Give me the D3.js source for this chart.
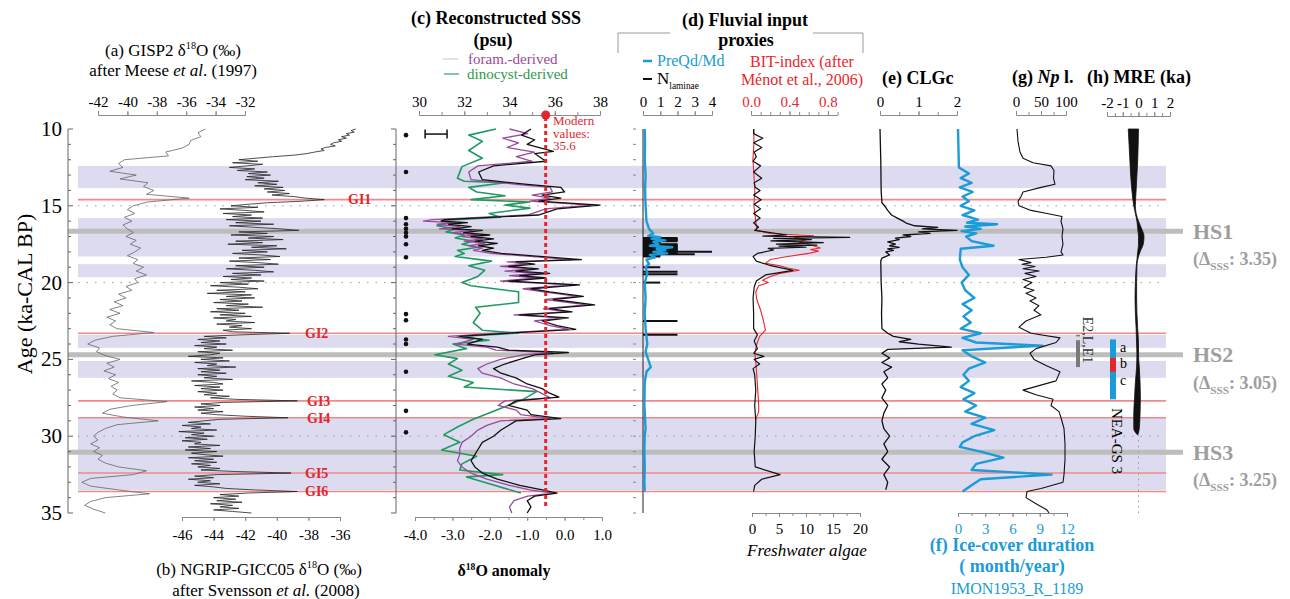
<!DOCTYPE html>
<html><head><meta charset="utf-8">
<script src="https://cdn.jsdelivr.net/npm/d3@7/dist/d3.min.js"></script>
<style>
body{margin:0;background:#fff;}
svg{font-family:"Liberation Serif","Times New Roman",serif;display:block;}
</style></head><body>
<svg id="c" width="1290" height="599"></svg>
<script>
// ---------------- DATA ----------------
const ageTicks = [10,15,20,25,30,35];
const bandStart = [12.4,15.8,18.8,23.4,25.1,28.8];
const bandEnd   = [13.85,18.3,19.65,24.25,26.2,33.5];
const giAges = [14.6,23.3,27.7,28.8,32.4,33.6];
const giLabels = ["GI1","GI2","GI3","GI4","GI5","GI6"];
const hsAges = [16.65,24.7,31.05];
const hsLabels = ["HS1","HS2","HS3"];
const hsDelta = ["3.35","3.05","3.25"];
const dottedAges = [15,20,30];

// (a) GISP2 d18O, sampled every 0.25 ka from 10 ka
const gispStart = 10, gispStep = 0.25;
const gispD18O = [-34.7,-35.2,-35.0,-35.7,-35.8,-36.3,-37.4,-37.2,-40.2,-40.6,
 -40.3,-41.2,-39.4,-40.5,-38.6,-38.9,-38.2,-38.7,-35.8,-38.6,
 -39.6,-40.0,-39.5,-40.2,-39.7,-40.3,-40.0,-39.6,-40.1,-39.4,
 -39.8,-39.1,-39.5,-40.0,-39.3,-39.6,-38.9,-39.4,-38.7,-39.5,
 -39.3,-40.1,-39.7,-40.6,-40.1,-40.9,-40.3,-41.2,-40.5,-41.4,
 -40.8,-41.2,-40.7,-38.2,-41.0,-42.2,-42.7,-41.9,-42.1,-41.5,
 -40.5,-41.4,-40.9,-41.6,-40.8,-41.3,-40.6,-41.1,-40.7,-41.0,
 -40.5,-37.3,-39.7,-41.2,-41.7,-40.3,-37.9,-40.7,-41.5,-42.0,
 -42.3,-42.0,-42.5,-41.9,-42.3,-41.7,-42.0,-41.5,-40.6,-38.7,
 -39.6,-42.5,-43.1,-42.5,-40.6,-38.5,-41.5,-42.5,-42.9,-42.3,-41.5];

// (b) NGRIP d18O, sampled every 0.1 ka from 10 ka
const ngripStart = 10, ngripStep = 0.1;
const ngripD18O = [
 -35.0,-35.3,-35.1,-35.6,-35.4,-35.9,-35.6,-36.1,-35.9,-36.4,
 -36.6,-36.3,-36.9,-37.2,-37.0,-37.6,-38.1,-38.9,-40.2,-41.3,
 -42.4,-41.2,-42.8,-40.9,-41.9,-43.0,-41.4,-42.5,-40.6,-41.8,
 -40.4,-41.9,-40.8,-42.0,-39.9,-41.2,-40.0,-41.4,-39.6,-40.8,
 -39.5,-40.6,-39.2,-40.3,-38.9,-38.2,-37.0,-38.4,-40.6,-41.8,
 -42.9,-41.2,-43.6,-42.0,-40.8,-43.4,-41.6,-42.8,-40.9,-43.2,
 -41.0,-42.6,-40.2,-43.0,-41.4,-39.8,-38.6,-42.4,-40.6,-42.9,
 -40.2,-41.8,-39.6,-42.6,-40.9,-43.1,-40.0,-41.6,-39.4,-42.2,
 -40.6,-42.8,-41.0,-39.8,-42.4,-40.4,-43.0,-41.2,-39.9,-42.6,
 -40.8,-43.2,-41.4,-40.2,-42.8,-41.0,-43.4,-41.6,-42.9,-40.8,
 -43.6,-41.8,-44.2,-42.4,-41.2,-43.8,-42.0,-44.4,-41.6,-43.2,
 -41.4,-43.6,-42.2,-44.0,-41.8,-43.2,-40.9,-43.8,-42.4,-44.2,
 -42.0,-43.6,-41.6,-44.0,-42.6,-43.2,-41.4,-43.8,-42.2,-43.0,
 -41.6,-43.4,-42.8,-39.2,-42.2,-44.6,-43.2,-45.0,-43.6,-44.8,
 -43.2,-45.2,-43.8,-44.6,-42.8,-45.0,-43.6,-44.2,-45.6,-43.4,
 -44.8,-43.0,-45.2,-43.8,-44.4,-42.6,-45.0,-43.6,-44.8,-43.2,
 -45.0,-43.8,-44.6,-42.8,-45.4,-44.0,-43.4,-45.2,-43.6,-44.8,
 -43.4,-45.0,-43.8,-44.6,-43.0,-44.2,-42.6,-38.7,-43.4,-44.8,
 -43.6,-45.2,-44.0,-45.0,-43.4,-44.8,-43.8,-42.0,-39.3,-43.6,
 -44.6,-45.6,-44.2,-46.0,-44.8,-45.4,-43.8,-46.2,-44.6,-45.4,
 -44.0,-45.8,-44.4,-46.0,-44.8,-45.2,-43.6,-45.6,-44.2,-45.8,
 -43.8,-45.4,-44.6,-43.4,-45.6,-44.0,-45.2,-43.8,-45.4,-44.2,
 -45.0,-43.6,-44.8,-42.6,-39.1,-43.8,-45.2,-44.0,-45.6,-44.2,
 -45.0,-43.6,-45.2,-44.0,-43.2,-41.4,-38.7,-41.8,-43.6,-42.4,
 -44.0,-42.6,-43.8,-42.2,-44.2,-42.8,-43.6,-42.4,-44.0,-42.8,
 -41.6];

// (c) SSS
const dinoAge = [10.0,10.4,10.8,11.4,11.9,12.45,13.2,13.4,13.5,13.8,14.1,14.35,14.6,14.75,14.95,15.15,15.5,15.75,15.95,16.1,16.3,16.5,16.7,16.9,17.1,17.3,17.5,17.7,17.9,18.1,18.3,18.6,18.9,19.2,19.6,20.0,20.2,20.6,21.3,21.6,22.0,22.6,23.1,23.3,23.5,23.75,24.0,24.3,24.7,24.95,25.3,25.7,26.1,26.5,26.8,27.1,27.6,28.2,28.9,29.4,29.9,30.4,30.9,31.3,31.8,32.2,32.5,32.65,33.7];
const dinoSSS = [33.4,32.2,32.8,32.2,32.8,31.9,31.7,32.0,33.8,32.2,32.55,33.8,32.3,34.9,33.8,34.9,33.1,33.6,31.0,31.4,30.8,31.6,31.2,32.0,31.6,32.4,31.9,32.6,31.7,32.0,31.6,33.2,32.2,32.9,32.6,31.9,32.3,34.4,34.4,32.5,32.7,32.4,32.8,34.4,31.7,33.1,31.5,32.1,30.7,31.7,31.3,31.9,31.3,32.4,32.0,35.2,34.6,33.6,32.4,31.7,31.1,31.8,31.0,32.55,31.9,31.8,33.7,32.1,34.5];
const foramAge = [10.0,10.3,10.6,10.9,11.2,11.5,11.8,12.1,12.4,12.8,13.3,13.6,13.8,14.1,14.3,14.5,14.7,14.95,15.2,15.6,15.9,16.0,16.1,16.2,16.35,16.5,16.6,16.75,16.9,17.0,17.15,17.3,17.45,17.6,17.75,17.9,18.1,18.5,18.65,18.8,18.95,19.1,19.25,19.4,19.55,19.7,19.9,20.15,20.4,20.6,20.9,21.1,21.45,21.7,21.9,22.1,22.3,22.5,22.8,23.05,23.3,23.5,23.7,24.0,24.2,24.4,24.55,24.7,25.0,25.3,25.6,25.9,26.2,26.6,26.9,27.2,27.5,27.7,28.0,28.3,28.6,28.85,29.0,29.3,29.6,30.0,30.4,30.8,31.2,31.6,32.0,32.4,32.8,33.2,33.5,33.7,33.9,34.2,34.6,35.0];
const foramSSS = [34.0,34.8,33.7,34.4,33.9,35.1,34.3,35.0,32.6,32.2,32.3,34.3,35.8,35.9,35.0,35.8,34.9,37.6,35.6,34.8,30.6,30.2,31.6,30.8,31.8,30.9,32.3,31.5,32.6,31.9,32.8,32.0,32.9,32.2,32.8,32.4,33.2,36.7,33.9,34.7,33.6,34.9,33.8,35.3,34.0,35.2,33.6,36.7,34.6,35.5,37.0,35.6,37.4,35.5,36.5,34.2,36.3,35.1,35.8,36.6,33.3,31.3,32.4,31.6,33.0,33.4,35.9,34.6,33.6,33.0,32.6,32.8,33.6,34.2,35.0,35.4,35.8,33.8,33.5,34.3,34.5,35.8,33.6,33.0,32.6,32.3,31.9,31.8,31.8,31.7,31.9,32.3,33.0,34.0,34.9,35.9,34.8,34.2,34.0,34.1];
const anomAge = [10.0,10.4,10.7,11.0,11.45,11.6,12.1,12.4,12.8,13.3,13.6,13.8,14.1,14.3,14.5,14.7,14.95,15.2,15.6,15.9,16.0,16.1,16.2,16.35,16.5,16.6,16.75,16.9,17.0,17.15,17.3,17.45,17.6,17.75,17.9,18.1,18.5,18.65,18.8,18.95,19.1,19.25,19.4,19.55,19.7,19.9,20.15,20.4,20.6,20.9,21.1,21.45,21.7,21.9,22.1,22.3,22.5,22.8,23.05,23.3,23.5,23.7,24.0,24.2,24.4,24.55,24.7,25.0,25.3,25.6,25.9,26.2,26.6,26.9,27.2,27.45,27.7,28.0,28.3,28.6,28.85,29.0,29.3,29.6,30.0,30.4,30.8,31.2,31.6,32.0,32.4,32.8,33.2,33.5,33.7,33.9,34.2,34.6,35.0];
const anomVal = [-0.9,-1.15,-0.8,-1.0,-0.3,-0.8,-0.5,-1.9,-2.3,-2.2,-1.0,-0.1,0.0,-0.6,-0.1,-0.7,0.95,-0.2,-0.7,-3.2,-3.3,-2.6,-3.1,-2.5,-3.0,-2.2,-2.7,-2.0,-2.5,-1.9,-2.4,-1.8,-2.3,-1.9,-2.2,-1.7,0.45,-1.3,-0.8,-1.5,-0.7,-1.3,-0.4,-1.2,-0.5,-1.5,0.4,-0.9,-0.4,0.5,-0.3,0.8,-0.4,0.2,-1.2,0.1,-0.6,-0.2,0.3,-1.6,-2.8,-2.2,-2.6,-1.8,-1.5,0.1,-0.8,-1.2,-1.6,-1.9,-1.7,-1.3,-1.0,-0.6,-0.4,-0.15,-1.3,-1.5,-1.0,-0.9,-0.1,-1.3,-1.5,-1.7,-1.9,-2.2,-2.3,-2.4,-2.5,-2.4,-2.2,-1.8,-1.2,-0.6,-0.2,-0.8,-1.0,-0.9,-1.0];
const sssDotAges = [10.4,12.8,15.8,16.2,16.5,16.75,17.0,17.5,18.35,22.05,22.45,23.7,24.0,25.8,28.35,29.75];
const sssErrBar = [30.27,31.24];
const modernSSS = 35.6;

// (d) fluvial input proxies
const preqdAge = [10,11,12,13,14,15,16,16.5,16.8,16.95,17.05,17.15,17.25,17.35,17.5,17.6,17.7,17.8,17.9,18.0,18.1,18.2,18.35,18.5,18.8,19.0,19.4,20,21,22,23,24.0,24.5,25.0,25.5,25.8,26.5,28,29.5,30,31,32,33,33.6];
const preqdVal = [0.1,0.12,0.1,0.15,0.12,0.15,0.2,0.35,0.6,0.3,1.0,0.5,1.3,0.6,0.9,0.4,1.7,0.8,1.3,0.6,1.4,0.4,0.7,0.2,0.35,0.15,0.25,0.1,0.15,0.1,0.15,0.25,0.15,0.3,0.45,0.2,0.1,0.08,0.15,0.1,0.08,0.1,0.08,0.1];
const lamAge = [17.1,17.14,17.18,17.22,17.26,17.3,17.34,17.38,17.42,17.46,17.5,17.54,17.58,17.62,17.66,17.7,17.74,17.78,17.82,17.86,17.9,17.94,17.99,18.05,18.1,18.16,18.21,18.26,18.3,19.0,19.3,19.45,20.0,22.5,23.4];
const lamVal = [2,2,2,2,2,2,1,1,1,1,2,2,2,2,2,2,2,2,2,2,2,2,4,2,2,3,1,1,1,1,2,2,1,2,2];
const bitAge = [10.0,11,12,13,14,15,16,16.6,16.8,16.95,17.05,17.2,17.35,17.5,17.6,17.75,17.85,17.95,18.1,18.3,18.5,18.75,18.9,19.05,19.2,19.4,19.6,19.85,20.0,20.2,20.6,21.1,21.8,22.5,23.1,23.5,24.0,24.6,25.2,26.0,27.0,28.0,28.4,28.9];
const bitVal = [0.03,0.03,0.02,0.03,0.04,0.03,0.05,0.06,0.2,0.65,0.45,0.58,0.5,0.6,0.65,0.72,0.62,0.7,0.6,0.38,0.2,0.15,0.3,0.38,0.5,0.3,0.2,0.12,0.18,0.08,0.05,0.06,0.1,0.13,0.15,0.09,0.06,0.04,0.05,0.06,0.07,0.08,0.08,0.05];
const algaeAge = [10.0,10.3,10.6,10.9,11.2,11.5,11.8,12.1,12.4,12.8,13.2,13.5,13.8,14.0,14.3,14.6,14.9,15.2,15.5,15.8,16.1,16.4,16.6,16.9,16.98,17.05,17.12,17.2,17.28,17.4,17.49,17.56,17.62,17.7,17.77,17.88,18.1,18.3,18.6,18.9,19.2,19.5,19.9,20.3,21.0,22.0,23.0,23.4,23.8,24.3,24.6,24.8,25.0,25.3,25.6,26.0,27.0,28.0,29.0,30.0,31.0,32.0,32.5,32.8,33.2,33.6];
const algaeVal = [0.3,0.3,2.0,0.3,1.8,0.4,0.8,0.2,1.6,0.3,1.8,0.4,0.6,1.5,0.3,1.7,0.4,1.6,0.3,1.5,0.3,1.2,0.5,6.4,2.0,18.1,4.0,11.0,3.5,13.2,4.5,12.0,5.0,10.0,3.0,4.0,1.0,0.2,0.8,3.5,7.6,2.5,0.8,0.4,0.2,0.3,0.3,1.0,0.4,1.0,0.3,2.2,0.4,1.4,0.2,0.5,0.7,0.5,0.7,0.6,0.4,0.6,5.2,1.8,0.5,0.3];

// (e) CLGc
const clgAge = [10,12,14,14.8,15.0,15.3,15.6,15.8,16.0,16.15,16.3,16.4,16.5,16.6,16.7,16.8,16.9,17.0,17.1,17.2,17.35,17.5,17.6,17.7,17.8,17.9,18.0,18.2,18.4,18.6,20,21,22,23,23.3,23.5,23.7,23.85,24.0,24.2,24.35,24.6,24.9,25.2,25.5,25.8,26.2,26.6,27.0,27.5,28.0,28.5,29.0,29.5,30.0,30.5,31.0,31.5,32.0,32.5,33.0,33.5];
const clgVal = [0.0,0.02,0.03,0.05,0.12,0.2,0.3,0.45,0.6,0.7,0.9,1.5,1.1,2.0,1.0,1.3,0.6,0.8,0.4,0.5,0.2,0.4,0.25,0.5,0.2,0.35,0.15,0.25,0.05,0.02,0.03,0.05,0.04,0.05,0.2,0.35,0.8,0.5,1.0,1.85,0.2,0.05,0.25,0.05,0.3,0.1,0.2,0.05,0.15,0.05,0.2,0.1,0.05,0.1,0.25,0.1,0.2,0.05,0.25,0.1,0.2,0.15];

// (f) Ice-cover duration (month/year)
const iceAge = [10,12.5,12.9,13.2,13.5,13.8,14.1,14.4,14.7,15.0,15.3,15.6,15.9,16.1,16.2,16.35,16.5,16.65,16.8,17.0,17.3,17.6,17.8,18.5,19.0,19.5,20.0,20.5,21.0,21.4,21.8,22.2,22.6,23.0,23.3,23.6,23.9,24.1,24.4,24.8,25.2,25.6,26.0,26.4,26.8,27.2,27.6,28.0,28.4,28.8,29.2,29.6,30.0,30.4,30.7,31.0,31.4,31.8,32.2,32.5,32.8,33.2,33.6];
const iceVal = [0,0.1,1.2,0.3,1.5,0.2,1.6,0.5,1.2,0.3,1.8,0.5,2.2,1.0,4.3,0.8,2.5,0.4,2.0,0.9,1.5,3.9,0.3,0.2,0.5,1.2,0.4,0.8,1.8,0.5,1.5,0.6,1.4,0.3,2.5,0.5,2.0,9.3,0.5,1.5,3.0,1.2,0.6,1.2,0.3,1.8,0.6,2.0,0.8,3.0,1.5,4.0,1.8,0.5,0.2,2.5,5.0,2.0,1.5,10.3,2.5,1.5,0.5];

// (g) Np l. (%)
const npAge = [10.0,10.8,11.5,11.9,12.2,12.4,12.7,13.2,13.6,13.8,14.1,14.4,14.7,15.0,15.3,15.5,15.7,16.0,16.5,17.0,17.5,18.0,18.2,18.35,18.5,18.7,18.8,18.95,19.1,19.25,19.4,19.6,19.8,20.0,20.3,20.5,20.7,21.0,21.2,21.5,21.8,22.1,22.5,22.9,23.3,23.6,23.9,24.3,24.6,25.0,25.4,25.8,26.4,27.0,27.3,27.6,28.0,28.4,28.8,29.5,30.5,31.5,32.5,33.0,33.4,33.6,34.0,34.4,34.8,35.0];
const npVal = [2,4,8,14,34,70,76,75,78,50,14,10,4,6,30,62,92,90,94,92,94,90,94,60,6,30,12,38,14,46,18,40,14,32,16,36,20,40,28,46,36,50,20,6,30,88,80,40,28,36,60,88,80,14,40,74,70,86,90,96,98,98,96,94,50,22,20,40,62,66];

// (h) MRE (ka) envelope
const mreAge = [10.0,11,12,13,14,15,15.5,16,16.5,17,17.5,18,18.5,19,20,21,22,23,24,24.7,25.5,26.5,27.5,28.5,29.5,29.9];
const mreMin = [-0.65,-0.6,-0.55,-0.5,-0.42,-0.3,-0.2,-0.1,-0.05,0.0,0.0,-0.05,-0.1,-0.15,-0.2,-0.22,-0.2,-0.15,-0.12,-0.1,-0.12,-0.2,-0.25,-0.3,-0.3,-0.08];
const mreMax = [0.0,-0.02,-0.05,-0.1,-0.15,-0.2,-0.15,0.0,0.2,0.35,0.3,0.1,-0.05,-0.1,-0.12,-0.12,-0.1,-0.05,0.0,0.0,0.05,0.1,0.12,0.1,0.05,-0.04];

// stratigraphic bars (age ranges)
const e2Range = [23.4,25.5], e2Light = [23.5,23.75];
const neaRange = [23.7,27.6], neaB = [24.9,25.8];

// ---------------- DRAWING ----------------
const svg = d3.select('#c');
svg.append('rect').attr('width',1290).attr('height',599).attr('fill','#fff');
const FONT = '"Liberation Serif","Times New Roman",serif';
const BLUE = '#1b9bd7', RED = '#e3262b', GRAYT = '#9e9e9e';

const y = d3.scaleLinear().domain([10,35]).range([129,513]);
const xA = d3.scaleLinear().domain([-42,-32]).range([98,245]);
const xB = d3.scaleLinear().domain([-46,-36]).range([182,340]);
const xS = d3.scaleLinear().domain([30,38]).range([419,600]);
const xAn = d3.scaleLinear().domain([-4,1]).range([415,602]);
const xPQ = d3.scaleLinear().domain([0,4]).range([643,712]);
const xBIT = d3.scaleLinear().domain([0,0.9]).range([751,837.6]);
const xFA = d3.scaleLinear().domain([0,20]).range([752,860]);
const xCL = d3.scaleLinear().domain([0,2]).range([880,957]);
const xIC = d3.scaleLinear().domain([0,12]).range([958,1067]);
const xNp = d3.scaleLinear().domain([0,100]).range([1016,1066]);
const xM = d3.scaleLinear().domain([-2,2]).range([1107,1170]);

// background bands
const gBg = svg.append('g');
bandStart.forEach((s,i)=>{
  gBg.append('rect').attr('x',78).attr('width',1166-78)
    .attr('y',y(s)).attr('height',y(bandEnd[i])-y(s)).attr('fill','#dddbef');
});
dottedAges.forEach(a=>{
  gBg.append('line').attr('x1',78).attr('x2',1166).attr('y1',y(a)).attr('y2',y(a))
    .attr('stroke','#9a9a9a').attr('stroke-width',1).attr('stroke-dasharray','1.5,7');
});
giAges.forEach(a=>{
  gBg.append('line').attr('x1',78).attr('x2',1166).attr('y1',y(a)).attr('y2',y(a))
    .attr('stroke','#f08a8a').attr('stroke-width',1.6);
});
hsAges.forEach(a=>{
  gBg.append('line').attr('x1',68).attr('x2',1183).attr('y1',y(a)).attr('y2',y(a))
    .attr('stroke','#bdbdbd').attr('stroke-width',5);
});

// helper: rich text
function rich(x, yc, segs, o){
  o = o||{};
  const size = o.size||16;
  const t = svg.append('text').attr('x',x).attr('y',yc+size*0.34)
    .attr('text-anchor',o.anchor||'start').attr('font-size',size)
    .attr('fill',o.fill||'#000').attr('font-weight',o.weight||'normal')
    .attr('font-family',FONT);
  if(o.rotate) t.attr('transform',`rotate(${o.rotate},${x},${yc})`);
  let shift=0;
  segs.forEach(s=>{
    if(typeof s==='string') s={t:s};
    const target = s.sup? -size*0.42 : s.sub? size*0.28 : 0;
    const sp = t.append('tspan').text(s.t).attr('dy',target-shift);
    shift = target;
    if(s.sup||s.sub) sp.attr('font-size',size*(s.small||0.6));
    if(s.it) sp.attr('font-style','italic');
    if(s.b) sp.attr('font-weight','bold');
  });
  return t;
}

// helper: horizontal axis
function hAxis(scale, top, yPos, majors, minors, fmt, color, opts){
  opts = opts||{};
  const mk = top? d3.axisTop : d3.axisBottom;
  const g = svg.append('g').attr('transform',`translate(0,${yPos})`);
  g.call(mk(scale).tickValues(minors).tickSize(3).tickSizeOuter(0).tickFormat(''));
  const g2 = svg.append('g').attr('transform',`translate(0,${yPos})`);
  g2.call(mk(scale).tickValues(majors).tickSize(4).tickSizeOuter(0).tickPadding(opts.pad||4).tickFormat(fmt));
  [g,g2].forEach(gg=>{
    gg.select('.domain').attr('stroke',opts.line||'#8a8a8a').attr('stroke-width',1);
    gg.selectAll('.tick line').attr('stroke',opts.line||'#8a8a8a');
    gg.selectAll('text').attr('font-family',FONT).attr('font-size',opts.size||15).attr('fill',color||'#000');
  });
}
const rng = (a,b,s)=>d3.range(a,b+s/2,s);
const fInt = d=>String(Math.round(d));
const f1 = d=>d.toFixed(1);

// top axes
hAxis(xA,true,115,rng(-42,-32,2),rng(-42,-32,2),fInt,'#000');
hAxis(xS,true,115,rng(30,38,2),rng(30,38,1),fInt,'#000');
hAxis(xPQ,true,115,rng(0,4,1),rng(0,4,1),fInt,'#000');
hAxis(xBIT,true,115,[0,0.4,0.8],rng(0,0.9,0.1),f1,RED);
hAxis(xCL,true,115,[0,1,2],rng(0,2,0.5),fInt,'#000');
hAxis(xNp,true,115,[0,50,100],rng(0,100,25),fInt,'#000');
hAxis(xM,true,116,[-2,-1,0,1,2],rng(-2,2,0.5),fInt,'#000');
// bottom axes
hAxis(xB,false,517,rng(-46,-36,2),rng(-46,-36,2),fInt,'#000',{pad:8});
hAxis(xAn,false,517,rng(-4,1,1),rng(-4,1,0.5),f1,'#000',{pad:8});
hAxis(xFA,false,513,rng(0,20,5),rng(0,20,2.5),fInt,'#000',{pad:6});
hAxis(xIC,false,513,rng(0,12,3),rng(0,12,1.5),fInt,BLUE,{pad:6});

// vertical age axes
function vAxis(xPos, dir, labels){
  const g = svg.append('g');
  g.append('line').attr('x1',xPos).attr('x2',xPos).attr('y1',y(10)).attr('y2',y(35)).attr('stroke','#666');
  rng(10,35,1).forEach(a=>{
    const major = a%5===0;
    g.append('line').attr('x1',xPos).attr('x2',xPos+dir*(major?5:3)).attr('y1',y(a)).attr('y2',y(a)).attr('stroke','#666');
  });
  if(labels){
    ageTicks.forEach(a=>{
      g.append('text').attr('x',xPos-6).attr('y',y(a)+7).attr('text-anchor','end')
        .attr('font-size',21).attr('font-family',FONT).text(a);
    });
  }
}
vAxis(68,1,true);
vAxis(396,-1,false);
// small tick column of panel (d)
rng(10,35,1).forEach(a=>{
  svg.append('line').attr('x1',633).attr('x2',636).attr('y1',y(a)).attr('y2',y(a)).attr('stroke','#888');
});

// y-axis title
rich(25,294,['Age (ka-CAL BP)'],{size:22,anchor:'middle',rotate:-90});

// line helper
function path(ages, vals, xs, color, w){
  const pts = ages.map((a,i)=>[xs(vals[i]), y(a)]);
  svg.append('path').attr('d',d3.line()(pts)).attr('fill','none')
    .attr('stroke',color).attr('stroke-width',w).attr('stroke-linejoin','round');
}
const gispAge = gispD18O.map((_,i)=>gispStart+i*gispStep);
const ngripAge = ngripD18O.map((_,i)=>ngripStart+i*ngripStep);
path(gispAge, gispD18O, xA, '#666', 0.8);
path(ngripAge, ngripD18O, xB, '#222', 0.8);

// (c)
path(dinoAge, dinoSSS, xS, '#1f9a62', 1.6);
path(foramAge, foramSSS, xS, '#9a4a9a', 1.3);
path(anomAge, anomVal, xAn, '#111', 1.3);
svg.append('line').attr('x1',xS(modernSSS)).attr('x2',xS(modernSSS)).attr('y1',117).attr('y2',y(34.6))
  .attr('stroke',RED).attr('stroke-width',3).attr('stroke-dasharray','4,3');
svg.append('circle').attr('cx',xS(modernSSS)).attr('cy',115).attr('r',4.5).attr('fill',RED);
['Modern','values:','35.6'].forEach((t,i)=>rich(553,121+i*12.5,[t],{size:13,fill:RED}));
sssDotAges.forEach(a=>svg.append('circle').attr('cx',406).attr('cy',y(a)).attr('r',2.3).attr('fill','#111'));
{
  const ey = y(10.33);
  const g = svg.append('g').attr('stroke','#111').attr('stroke-width',1.5);
  g.append('line').attr('x1',xS(sssErrBar[0])).attr('x2',xS(sssErrBar[1])).attr('y1',ey).attr('y2',ey);
  sssErrBar.forEach(v=>g.append('line').attr('x1',xS(v)).attr('x2',xS(v)).attr('y1',ey-4.5).attr('y2',ey+4.5));
}

// (d)
svg.append('line').attr('x1',xPQ(0)).attr('x2',xPQ(0)).attr('y1',y(10)).attr('y2',y(35)).attr('stroke','#222').attr('stroke-width',1);
lamAge.forEach((a,i)=>{
  svg.append('line').attr('x1',xPQ(0)).attr('x2',xPQ(lamVal[i])).attr('y1',y(a)).attr('y2',y(a))
    .attr('stroke','#111').attr('stroke-width',2);
});
path(preqdAge, preqdVal, xPQ, BLUE, 2.4);
path(bitAge, bitVal, xBIT, '#e8262b', 1.1);
path(algaeAge, algaeVal, xFA, '#111', 1.2);

// (e),(f),(g)
path(clgAge, clgVal, xCL, '#111', 1.3);
path(iceAge, iceVal, xIC, BLUE, 2.4);
path(npAge, npVal, xNp, '#111', 1.1);

// (h) MRE envelope
{
  const area = d3.area().x0(d=>xM(d[1])).x1(d=>xM(d[2])).y(d=>y(d[0])).curve(d3.curveMonotoneY);
  svg.append('path').attr('d',area(mreAge.map((a,i)=>[a,mreMin[i],mreMax[i]]))).attr('fill','#111').attr('stroke','#111').attr('stroke-width',0.8);
  svg.append('line').attr('x1',xM(0)).attr('x2',xM(0)).attr('y1',y(29.9)).attr('y2',y(35))
    .attr('stroke','#999').attr('stroke-dasharray','1.5,4');
}

// stratigraphic bars
svg.append('rect').attr('x',1076).attr('width',4).attr('y',y(e2Range[0])).attr('height',y(e2Range[1])-y(e2Range[0])).attr('fill','#7a7a7a');
svg.append('rect').attr('x',1076).attr('width',4).attr('y',y(e2Light[0])).attr('height',y(e2Light[1])-y(e2Light[0])).attr('fill','#dcdcdc');
svg.append('rect').attr('x',1110).attr('width',6).attr('y',y(neaRange[0])).attr('height',y(neaRange[1])-y(neaRange[0])).attr('fill',BLUE);
svg.append('rect').attr('x',1110).attr('width',6).attr('y',y(neaB[0])).attr('height',y(neaB[1])-y(neaB[0])).attr('fill','#e3262b');
rich(1088,340,['E2,L,E1'],{size:14,anchor:'middle',rotate:90,fill:'#333'});
rich(1117,441,['NEA-GS 3'],{size:15,anchor:'middle',rotate:90});
['a','b','c'].forEach((t,i)=>rich(1120,347+i*16.5,[t],{size:14}));

// GI labels
const giLabelX = [348,305,307,307,305,305];
giLabels.forEach((t,i)=>rich(giLabelX[i],y(giAges[i]),[t],{size:14,weight:'bold',fill:RED}));

// HS labels
hsLabels.forEach((t,i)=>{
  const yy = y(hsAges[i]);
  rich(1193,yy,[t],{size:22,weight:'bold',fill:GRAYT});
  rich(1193,yy+28,['(Δ',{t:'SSS',sub:true,small:0.62},': '+hsDelta[i]+')'],{size:18,weight:'bold',fill:GRAYT});
});

// Titles
rich(173,50,['(a) GISP2 δ',{t:'18',sup:true},'O (‰)'],{size:17,anchor:'middle'});
rich(173,70,['after Meese ',{t:'et al',it:true},'. (1997)'],{size:17,anchor:'middle'});
rich(259,569,['(b) NGRIP-GICC05 δ',{t:'18',sup:true},'O (‰)'],{size:17,anchor:'middle'});
rich(266,590,['after Svensson ',{t:'et al.',it:true},'  (2008)'],{size:17,anchor:'middle'});
rich(504,571,['δ',{t:'18',sup:true},'O anomaly'],{size:16,anchor:'middle',weight:'bold'});

rich(496,18,['(c) Reconstructed SSS'],{size:18,anchor:'middle',weight:'bold'});
rich(493,40,['(psu)'],{size:18,anchor:'middle',weight:'bold'});
svg.append('line').attr('x1',443).attr('x2',458).attr('y1',59).attr('y2',59).attr('stroke','#d8c8d8').attr('stroke-width',1.2);
rich(468,58.5,['foram.-derived'],{size:15,fill:'#9a4a9a'});
svg.append('line').attr('x1',444).attr('x2',459).attr('y1',74).attr('y2',74).attr('stroke','#2a9e7a').attr('stroke-width',1.2);
rich(467,74,['dinocyst-derived'],{size:15,fill:'#2a9a4a'});

rich(745,20,['(d) Fluvial input'],{size:18,anchor:'middle',weight:'bold'});
rich(746,40,['proxies'],{size:18,anchor:'middle',weight:'bold'});
svg.append('path').attr('d','M618,53V33H670M813,33H863V53').attr('fill','none').attr('stroke','#999').attr('stroke-width',1);
svg.append('line').attr('x1',643).attr('x2',652).attr('y1',61).attr('y2',61).attr('stroke',BLUE).attr('stroke-width',2.5);
rich(657,61,['PreQd/Md'],{size:16,fill:BLUE});
svg.append('line').attr('x1',643).attr('x2',652).attr('y1',79).attr('y2',79).attr('stroke','#111').attr('stroke-width',2);
rich(657,78,['N',{t:'laminae',sub:true,small:0.55}],{size:17});
rich(802,62,['BIT-index (after'],{size:16,anchor:'middle',fill:'#e8262b'});
rich(802,80,['Ménot et al., 2006)'],{size:16,anchor:'middle',fill:'#e8262b'});

rich(882,78,['(e) CLGc'],{size:18,weight:'bold'});
rich(1012,77,['(g) ',{t:'Np',it:true},' l.'],{size:18,weight:'bold'});
rich(1087,77,['(h) MRE (ka)'],{size:18,weight:'bold'});

rich(807,550,[{t:'Freshwater algae',it:true}],{size:17,anchor:'middle'});
rich(1012,545,['(f) Ice-cover duration'],{size:18,anchor:'middle',weight:'bold',fill:BLUE});
rich(1012,566,['( month/year)'],{size:18,anchor:'middle',weight:'bold',fill:BLUE});
rich(1017,589,['IMON1953_R_1189'],{size:16,anchor:'middle',fill:BLUE});
</script>
</body></html>
